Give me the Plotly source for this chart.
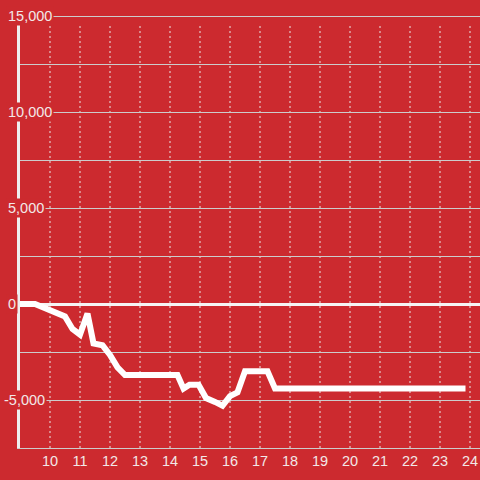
import plotly.graph_objects as go

# data
hours = [9.0, 9.5, 10.5, 10.75, 11.0, 11.25, 11.45, 11.75, 12.0, 12.25, 12.5,
         14.25, 14.45, 14.65, 14.95, 15.2, 15.5, 15.75, 16.0, 16.25, 16.5,
         17.25, 17.5, 23.85]
values = [0, 0, -650, -1300, -1600, -500, -2050, -2150, -2650, -3300, -3700,
          -3700, -4400, -4200, -4200, -4900, -5100, -5300, -4800, -4600, -3500,
          -3500, -4400, -4400]
x_ticks = list(range(10, 25))
x_tick_labels = [str(v) for v in x_ticks]
y_ticks = [-5000, 0, 5000, 10000, 15000]
y_tick_labels = ["-5,000", "0", "5,000", "10,000", "15,000"]

BG = "#CC2A2F"
GRID = "#CCCCCC"
TXT = "#F2E8E8"
FONT = "Arial"

PLOT_H = 480 - 14 - 32
fig = go.Figure()
fig.add_trace(go.Scatter(x=hours, y=values, mode="lines",
                         line=dict(color="#FFFFFF", width=6),
                         hoverinfo="skip", cliponaxis=True))

# vertical dotted grid lines
for xv in x_ticks:
    fig.add_shape(type="line", xref="x", yref="paper", x0=xv, x1=xv,
                  y0=0, y1=(448 - 24) / PLOT_H, layer="below",
                  line=dict(color="#E8E8E8", width=1, dash="2px,3px"))

# y tick labels with background
for v, lab in zip(y_ticks, y_tick_labels):
    shift = -14 - (4 if lab.startswith("-") else 0)
    fig.add_annotation(xref="paper", yref="y", x=0, y=v, text=lab,
                       xanchor="left", yanchor="middle", xshift=shift,
                       showarrow=False, bgcolor=BG, borderpad=1,
                       font=dict(family=FONT, size=14.5, color=TXT))

fig.update_layout(
    width=480, height=480,
    margin=dict(l=20, r=0, t=14, b=32),
    paper_bgcolor=BG, plot_bgcolor=BG,
    showlegend=False,
    xaxis=dict(range=[9, 9 + 460 / 30], tickmode="array", tickvals=x_ticks,
               ticktext=x_tick_labels, showgrid=False, zeroline=False,
               showline=True, linecolor=GRID, linewidth=1, ticks="",
               tickfont=dict(family=FONT, size=14.5, color=TXT)),
    yaxis=dict(range=[-7500, -7500 + 22500 / 432 * PLOT_H], tick0=0,
               dtick=2500, showgrid=True,
               gridcolor=GRID, gridwidth=1, zeroline=True,
               zerolinecolor="#F5F5F5", zerolinewidth=3,
               showline=True, linecolor="#EEEEEE", linewidth=3,
               ticks="", showticklabels=False),
)

fig.write_html("out.html", config={"displayModeBar": False},
               post_script="document.body.style.margin='0';"
                           "document.body.style.overflow='hidden';")
